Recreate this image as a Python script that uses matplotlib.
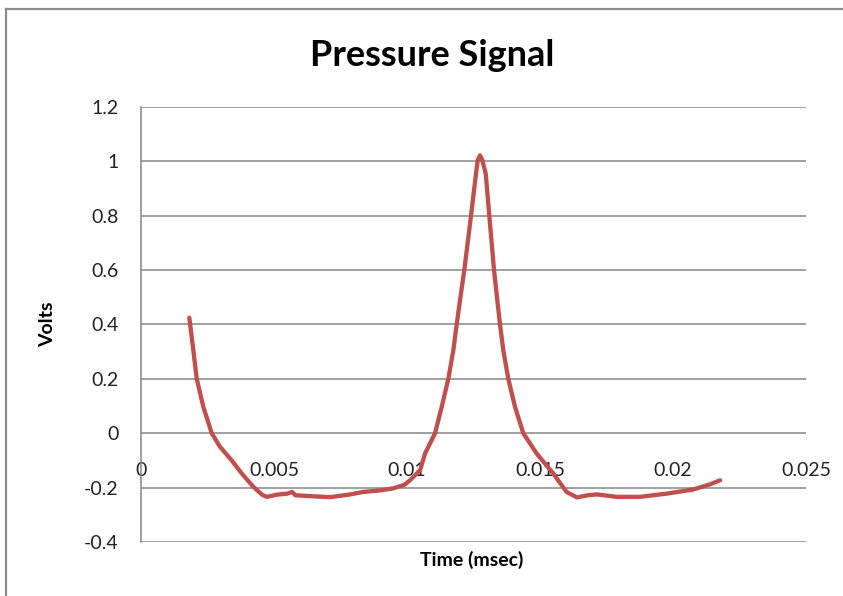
import matplotlib.pyplot as plt
from matplotlib.lines import Line2D

# values
time_s = [0.001816, 0.001966, 0.002094, 0.002342, 0.002658, 0.002970, 0.003410, 0.003786,
          0.004222, 0.00455, 0.004726, 0.00510, 0.00550, 0.00568, 0.00580, 0.00650,
          0.00711, 0.00780, 0.00835, 0.00900, 0.00947, 0.00990, 0.01011, 0.01049,
          0.010677, 0.011053, 0.011305, 0.011553, 0.011741, 0.011868, 0.011992, 0.012154,
          0.012406, 0.012594, 0.01266, 0.012744, 0.01283, 0.012959, 0.013094, 0.013271,
          0.013395, 0.013496, 0.013620, 0.013808, 0.014060, 0.014372, 0.014876, 0.01549,
          0.01600, 0.01639, 0.01680, 0.01714, 0.01789, 0.01876, 0.01977, 0.02075,
          0.02139, 0.02177]
volts = [0.425, 0.305, 0.200, 0.097, 0.000, -0.050, -0.100, -0.148,
         -0.197, -0.226, -0.234, -0.226, -0.222, -0.216, -0.228, -0.232,
         -0.235, -0.226, -0.216, -0.210, -0.203, -0.190, -0.173, -0.136,
         -0.075, 0.000, 0.097, 0.200, 0.305, 0.400, 0.489, 0.600,
         0.800, 0.955, 1.005, 1.022, 1.005, 0.955, 0.800, 0.600,
         0.489, 0.400, 0.305, 0.200, 0.097, 0.000, -0.075, -0.147,
         -0.216, -0.236, -0.228, -0.225, -0.234, -0.234, -0.222, -0.207,
         -0.188, -0.173]

x_ticks = [0, 0.005, 0.01, 0.015, 0.02, 0.025]
x_labels = ['0', '0.005', '0.01', '0.015', '0.02', '0.025']
y_ticks = [-0.4, -0.2, 0, 0.2, 0.4, 0.6, 0.8, 1.0, 1.2]
y_labels = ['-0.4', '-0.2', '0', '0.2', '0.4', '0.6', '0.8', '1', '1.2']

plt.rcParams['font.family'] = ['Lato', 'DejaVu Sans']
grey = '#868686'

fig = plt.figure(figsize=(8.43, 5.96), dpi=100)
# outer chart frame: only the left and top edges show in the picture
frame_col = '#8c8c8c'
fig.add_artist(Line2D([0.0077, 0.0077], [0, 0.9845], transform=fig.transFigure,
                      color=frame_col, linewidth=1.6))
fig.add_artist(Line2D([0.0077, 1.0], [0.9845, 0.9845], transform=fig.transFigure,
                      color=frame_col, linewidth=1.6))

ax = fig.add_axes([0.1673, 0.0906, 0.7888, 0.7299])
ax.plot(time_s, volts, color='#C0504D', linewidth=3.1, solid_capstyle='round',
        solid_joinstyle='round')

ax.set_xlim(0, 0.025)
ax.set_ylim(-0.4, 1.2)
ax.set_xticks(x_ticks)
ax.set_xticklabels(x_labels)
ax.set_yticks(y_ticks)
ax.set_yticklabels(y_labels)

ax.grid(axis='y', color=grey, linewidth=1.1)
ax.set_axisbelow(True)
for s in ['top', 'right']:
  ax.spines[s].set_visible(False)
ax.spines['left'].set_color(grey)
ax.spines['left'].set_linewidth(1.1)
ax.spines['bottom'].set_position(('data', 0))
ax.spines['bottom'].set_visible(False)

ax.tick_params(axis='x', length=0, pad=21, labelsize=14, colors='#222222')
ax.tick_params(axis='y', length=0, pad=16, labelsize=14, colors='#222222')

fig.text(432 / 843, 1 - 56 / 596, 'Pressure Signal', fontsize=26, fontweight='bold',
         ha='center', va='center')
ax.set_ylabel('Volts', fontsize=14, fontweight='bold', labelpad=20)
fig.text(472 / 843, 1 - 560 / 596, 'Time (msec)', fontsize=14, fontweight='bold',
         ha='center', va='center')

fig.savefig('out.png', dpi=100)
